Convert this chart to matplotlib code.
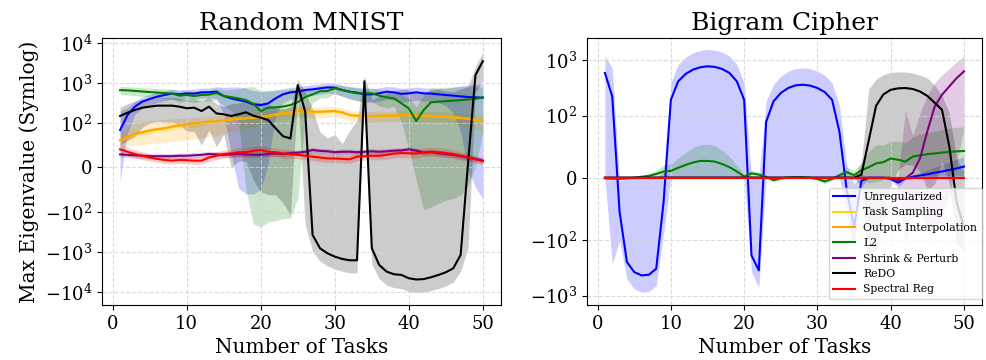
import numpy as np
import matplotlib.pyplot as plt

plt.rcParams["font.family"] = "serif"

tasks = np.arange(1, 51)
methods = ["Unregularized", "Task Sampling", "Output Interpolation", "L2",
           "Shrink & Perturb", "ReDO", "Spectral Reg"]
colors = ["blue", "gold", "orange", "green", "purple", "black", "red"]

# ---- Random MNIST: mean / std of max eigenvalue per task ----
mnist_unreg = [84, 157, 255, 340, 396, 453, 498, 540, 518, 549, 540, 581, 581, 604, 470,
               411, 373, 340, 290, 280, 308, 411, 518, 581, 604, 664, 690, 731, 774, 760,
               664, 604, 570, 518, 518, 549, 604, 581, 530, 549, 581, 549, 540, 518, 498,
               480, 460, 443, 436, 428]
mnist_unreg_std = [116, 80, 90, 110, 120, 130, 140, 150, 150, 150, 150, 160, 160, 200, 300,
                   380, 420, 400, 350, 330, 300, 250, 200, 190, 190, 200, 200, 210, 220, 220,
                   200, 200, 200, 190, 190, 200, 210, 210, 200, 200, 210, 200, 200, 200, 230,
                   300, 380, 450, 480, 500]
mnist_task = [60, 68, 74, 78, 82, 85, 87, 90, 93, 96, 98, 102, 106, 110, 115,
              122, 127, 130, 135, 141, 147, 161, 170, 181, 195, 195, 188, 188, 192, 195,
              181, 156, 150, 150, 144, 150, 150, 150, 156, 156, 150, 150, 147, 144, 141,
              138, 133, 127, 120, 113]
mnist_task_std = [5, 5, 6, 6, 6, 7, 7, 7, 7, 7, 8, 8, 8, 8, 9,
                  9, 9, 10, 10, 10, 10, 11, 11, 12, 12, 12, 12, 12, 12, 12,
                  12, 11, 10, 10, 10, 10, 10, 10, 10, 10, 10, 10, 10, 10, 10,
                  9, 9, 9, 8, 8]
mnist_output = [61, 69, 75, 79, 83, 86, 88, 92, 94, 97, 99, 103, 107, 111, 117,
                124, 129, 132, 137, 143, 149, 164, 173, 184, 198, 198, 191, 191, 195, 198,
                184, 158, 152, 152, 146, 152, 152, 152, 158, 158, 152, 152, 149, 146, 143,
                140, 135, 129, 122, 115]
mnist_output_std = [15, 20, 25, 28, 30, 32, 33, 34, 35, 35, 36, 37, 38, 40, 42,
                    44, 45, 46, 47, 48, 50, 52, 55, 58, 60, 60, 58, 58, 58, 60,
                    55, 48, 45, 45, 44, 45, 45, 45, 47, 47, 45, 45, 44, 43, 42,
                    41, 40, 38, 36, 34]
mnist_l2 = [660, 650, 630, 610, 590, 575, 555, 545, 480, 500, 470, 500, 510, 560, 470,
            440, 410, 370, 300, 198, 240, 245, 255, 280, 330, 440, 518, 620, 630, 730,
            665, 600, 550, 550, 550, 480, 436, 410, 308, 230, 111, 210, 327, 340, 350,
            360, 370, 385, 400, 430]
mnist_l2_std = [150, 150, 150, 150, 150, 150, 150, 150, 150, 150, 150, 150, 160, 180, 200,
                240, 300, 420, 500, 440, 420, 415, 405, 424, 400, 300, 200, 200, 200, 200,
                200, 200, 200, 200, 200, 220, 200, 150, 200, 190, 140, 306, 416, 421, 424,
                430, 432, 425, 400, 350]
mnist_sp = [29, 28, 27, 26, 25, 25, 25, 25, 26, 26, 27, 28, 30, 29, 28,
            29, 30, 29, 28, 28, 30, 31, 30, 32, 33, 35, 39, 37, 36, 34,
            35, 35, 34, 35, 36, 35, 36, 37.5, 38, 40.5, 37.5, 33, 34, 32, 30,
            28, 25, 22, 19, 15]
mnist_sp_std = [6, 6, 6, 6, 6, 6, 6, 6, 6, 6, 6, 6, 6, 6, 6,
                6, 6, 6, 6, 6, 6, 6, 6, 6, 6, 6, 6, 6, 6, 6,
                6, 6, 6, 6, 6, 6, 6, 6, 6, 6, 6, 6, 6, 6, 6,
                6, 6, 6, 6, 6]
mnist_redo = [149, 180, 210, 240, 255, 270, 270, 270, 255, 232, 240, 198, 255, 173, 164,
              149, 164, 184, 151, 135, 118, 88, 70, 65, 886, 191, -380, -820, -1094, -1326,
              -1517, -1637, -1637, 1100, -820, -2140, -3140, -3660, -3810, -4610, -4950, -4840,
              -4350, -3810, -3270, -2600, -1200, 10, 1572, 3520]
mnist_redo_std = [100, 120, 140, 150, 155, 160, 165, 165, 160, 150, 160, 148, 171, 127, 90,
                  150, 150, 170, 180, 190, 180, 150, 150, 185, 350, 400, 600, 900, 1160, 1400,
                  1570, 1720, 1750, 400, 1200, 2600, 3700, 4300, 4500, 5300, 5500, 5400,
                  5000, 4500, 3900, 3200, 1900, 800, 1000, 2400]
mnist_spec = [40.5, 35, 30, 26, 22, 19, 16.5, 15, 16.5, 16, 15, 15, 22, 26, 30,
              31.5, 34, 34, 37, 39, 35, 34, 31, 30, 28, 26, 24, 22, 20, 20,
              19, 18, 24, 25, 26, 26, 28, 31, 32, 31.5, 31, 34, 35, 34, 32,
              30, 26, 22, 18, 14]
mnist_spec_std = [10, 10, 9, 9, 8, 8, 8, 8, 8, 8, 8, 8, 9, 9, 9,
                  9, 10, 10, 10, 10, 10, 10, 10, 10, 9, 9, 9, 9, 9, 9,
                  9, 9, 9, 9, 9, 9, 10, 10, 10, 10, 10, 10, 10, 10, 10,
                  10, 9, 9, 8, 8]

# ---- Bigram Cipher ----
bigram_unreg = [580, 221, -55, -250, -378, -434, -422, -330, -40, 192, 411, 556, 665, 733, 764,
                745, 684, 580, 411, 192, -190, -353, 90, 180, 254, 312, 348, 358, 345, 312,
                264, 192, 74, -20, -80, -5, 0, 0, 0, -2, -8, -1, 1.5, 3.5, 5.5,
                8, 10, 12.5, 15, 18]
bigram_unreg_std = [580, 490, 50, 250, 378, 434, 422, 330, 50, 192, 411, 556, 665, 733, 764,
                    745, 684, 580, 411, 192, 190, 353, 90, 180, 254, 312, 348, 358, 345, 312,
                    264, 192, 74, 40, 70, 10, 1, 1, 1, 2, 8, 2, 3, 5, 7,
                    9, 11, 13, 15, 16]
bigram_task = [0, 0, 0, 0, 0, 0, 0, 0, 0, 0, 0, 0, 0, 0, 0, 0, 0, 0, 0, 0, 0, 0, 0, 0, 0,
               0, 0, 0, 0, 0, 0, 0, 0, 0, 0, 0, 0, 0, 0, 0, 0, 0, 0, 0, 0, 0, 0, 0, 0, 0]
bigram_task_std = [0, 0, 0, 0, 0, 0, 0, 0, 0, 0, 0, 0, 0, 0, 0, 0, 0, 0, 0, 0, 0, 0, 0, 0, 0,
                   0, 0, 0, 0, 0, 0, 0, 0, 0, 0, 0, 0, 0, 0, 0, 0, 0, 0, 0, 0, 0, 0, 0, 0, 0]
bigram_output = [0, 0, 0, 0, 0, 0, 0, 0, 0, 0, 0, 0, 0, 0, 0, 0, 0, 0, 0, 0, 0, 0, 0, 0, 0,
                 0, 0, 0, 0, 0, 0, 0, 0, 0, 0, 0, 0, 0, 0, 0, 0, 0, 0, 0, 0, 0, 0, 0, 0, 0]
bigram_output_std = [0, 0, 0, 0, 0, 0, 0, 0, 0, 0, 0, 0, 0, 0, 0, 0, 0, 0, 0, 0, 0, 0, 0, 0, 0,
                     0, 0, 0, 0, 0, 0, 0, 0, 0, 0, 0, 0, 0, 0, 0, 0, 0, 0, 0, 0, 0, 0, 0, 0, 0]
bigram_l2 = [-1, -1.5, -2, -1, 0, 1.5, 3, 6, 10, 11, 16, 20.5, 24.5, 27, 27,
             26, 22, 17, 10, 2, 7, 5, 1.5, -4, -1, 0.5, 1, 1, 0, -2,
             -6, -2, 4, 9, 4, 12, 17, 23, 25, 31, 29, 26, 34, 36, 38,
             39, 40.5, 41.5, 42.5, 43]
bigram_l2_std = [1, 1, 1, 1, 1, 1.5, 3, 6, 10, 11, 16, 20, 24, 26, 27,
                 26, 22, 17, 10, 3, 5, 4, 2, 3, 2, 1, 1, 1, 1, 2,
                 4, 2, 4, 8, 8, 12, 25, 30, 28, 27, 30, 30, 32, 34, 35,
                 36, 37, 38, 39, 39]
bigram_sp = [0, 0, 0, 0, 0, 0, 0, 0, 0, 0, 0, 0, 0, 0, 0, 0, 0, 0, 0, 0,
             0, 0, 0, 0, 0, 0, 0, 0, 0, 0, 0, 0, 0, 0, 0, 0, 0, 0, 0, 0,
             -4, -1, 8, 31, 75, 146, 237, 334, 471, 621]
bigram_sp_std = [0, 0, 0, 0, 0, 0, 0, 0, 0, 0, 0, 0, 0, 0, 0, 0, 0, 0, 0, 0,
                 0, 0, 0, 0, 0, 0, 0, 0, 0, 0, 0, 0, 0, 0, 0, 0, 0, 0, 0, 0,
                 4, 124, 60, 80, 160, 240, 300, 360, 450, 540]
bigram_redo = [0, 0, 0, 0, 0, 0, 0, 0, 0, 0, 0, 0, 0, 0, 0, 0, 0, 0, 0, 0,
               0, 0, 0, 0, 0, 0, 0, 0, 0, 0, 0, 0, 0, 0, 0,
               5, 60, 150, 240, 290, 308, 312, 300, 270, 225, 170, 127, 50, -40, -80]
bigram_redo_std = [0, 0, 0, 0, 0, 0, 0, 0, 0, 0, 0, 0, 0, 0, 0, 0, 0, 0, 0, 0,
                   0, 0, 0, 0, 0, 0, 0, 0, 0, 0, 0, 0, 0, 0, 0,
                   20, 240, 300, 300, 300, 296, 290, 280, 260, 245, 180, 100, 60, 70, 90]
bigram_spec = [0, 0, 0, 0, 0, 0, 0, 0, 0, 0, 0, 0, 0, 0, 0, 0, 0, 0, 0, 0, 0, 0, 0, 0, 0,
               0, 0, 0, 0, 0, 0, 0, 0, 0, 0, 0, 0, 0, 0, 0, 0, 0, 0, 0, 0, 0, 0, 0, 0, 0]
bigram_spec_std = [0, 0, 0, 0, 0, 0, 0, 0, 0, 0, 0, 0, 0, 0, 0, 0, 0, 0, 0, 0, 0, 0, 0, 0, 0,
                   0, 0, 0, 0, 0, 0, 0, 0, 0, 0, 0, 0, 0, 0, 0, 0, 0, 0, 0, 0, 0, 0, 0, 0, 0]

mnist = [(mnist_unreg, mnist_unreg_std), (mnist_task, mnist_task_std),
         (mnist_output, mnist_output_std), (mnist_l2, mnist_l2_std),
         (mnist_sp, mnist_sp_std), (mnist_redo, mnist_redo_std),
         (mnist_spec, mnist_spec_std)]
bigram = [(bigram_unreg, bigram_unreg_std), (bigram_task, bigram_task_std),
          (bigram_output, bigram_output_std), (bigram_l2, bigram_l2_std),
          (bigram_sp, bigram_sp_std), (bigram_redo, bigram_redo_std),
          (bigram_spec, bigram_spec_std)]


def panel(ax, series, title, ylim):
    for name, c, (m, s) in zip(methods, colors, series):
        m, s = np.array(m, float), np.array(s, float)
        ax.plot(tasks, m, color=c, lw=1.5, label=name)
        ax.fill_between(tasks, m - s, m + s, color=c, alpha=0.2, lw=0)
    ax.set_yscale("symlog", linthresh=100)
    ax.set_ylim(*ylim)
    ax.set_title(title, fontsize=18)
    ax.set_xlabel("Number of Tasks", fontsize=14.5)
    ax.tick_params(labelsize=13)
    ax.grid(True, linestyle="--", color="lightgrey", alpha=0.8, lw=0.8)


fig = plt.figure(figsize=(9.87, 3.6), dpi=100)
ax1 = fig.add_axes([0.1033, 0.1528, 0.4043, 0.7417])
ax2 = fig.add_axes([0.5947, 0.1528, 0.4002, 0.7417])

panel(ax1, mnist, "Random MNIST", (-21500, 13300))
panel(ax2, bigram, "Bigram Cipher", (-1470, 2455))
ax1.set_ylabel("Max Eigenvalue (Symlog)", fontsize=14.5)
ax2.legend(loc="lower right", fontsize=7.8, bbox_to_anchor=(1.013, 0.003))

fig.savefig("out.png", dpi=100)
